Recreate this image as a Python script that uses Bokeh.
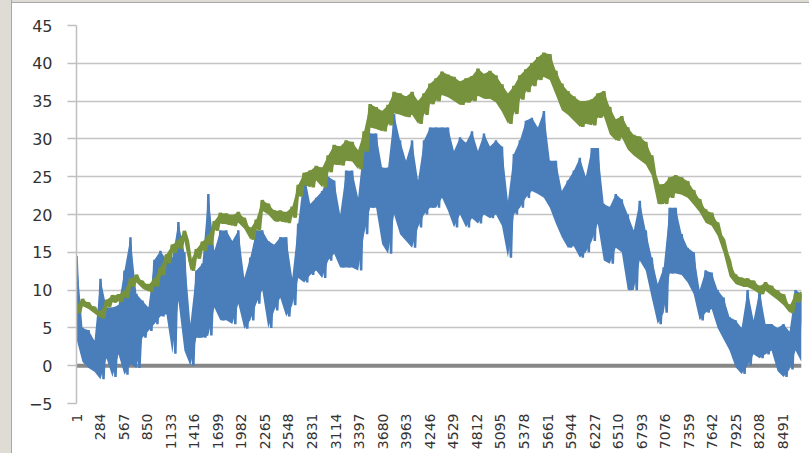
import numpy as np
from bokeh.plotting import figure
from bokeh.models import Range1d, FixedTicker, Span, Spacer
from bokeh.layouts import row, column
from bokeh.embed import file_html
from bokeh.resources import INLINE

# sample hours (every 72 h); each sample holds the high / low of the band
hours = [1 + 72 * k for k in range(122)]

green_hi = [8.0, 8.8, 8.3, 7.7, 7.1, 8.7, 9.3, 9.4, 9.9, 11.5,
            12.0, 11.1, 10.7, 11.5, 13.0, 14.7, 16.0, 16.6, 17.8, 13.8,
            15.4, 16.4, 17.2, 19.1, 20.2, 20.1, 19.9, 20.3, 19.5, 18.1,
            19.3, 21.9, 21.4, 20.5, 20.5, 20.3, 21.0, 23.9, 25.5, 25.8,
            26.4, 26.2, 27.8, 29.2, 29.0, 29.8, 29.6, 28.5, 31.0, 34.6,
            34.2, 33.7, 34.5, 36.2, 36.0, 35.6, 36.2, 35.0, 36.0, 37.3,
            38.0, 38.9, 38.5, 38.2, 37.6, 38.0, 38.3, 39.3, 38.6, 39.0,
            38.4, 37.2, 36.0, 37.0, 38.4, 39.2, 40.0, 40.8, 41.4, 41.2,
            39.0, 37.3, 36.3, 35.6, 35.0, 35.0, 35.2, 36.0, 36.3, 34.2,
            32.6, 33.0, 31.5, 30.5, 30.3, 29.6, 27.8, 24.0, 24.0, 24.9,
            25.2, 24.9, 24.4, 23.2, 22.0, 20.6, 20.2, 18.9, 16.6, 13.8,
            12.0, 11.6, 11.5, 11.2, 10.5, 11.0, 10.5, 9.9, 9.4, 7.9,
            9.5, 9.7]

green_lo = [7.0, 7.9, 7.5, 6.9, 6.3, 7.8, 8.4, 8.5, 9.0, 10.5,
            11.0, 10.2, 9.8, 10.5, 12.0, 13.6, 15.0, 15.5, 16.5, 12.6,
            14.2, 15.2, 16.0, 17.9, 18.8, 18.7, 18.5, 18.9, 18.1, 16.7,
            17.9, 20.5, 20.0, 19.1, 19.1, 18.9, 19.6, 22.4, 23.9, 23.6,
            24.5, 23.6, 25.6, 26.6, 26.5, 27.1, 27.0, 26.0, 28.3, 31.5,
            31.3, 31.0, 31.8, 33.4, 33.2, 32.9, 33.2, 32.0, 33.2, 34.6,
            35.0, 35.8, 35.5, 35.0, 34.5, 34.8, 35.0, 35.7, 35.3, 35.3,
            34.8, 33.6, 32.0, 33.3, 35.2, 36.2, 37.0, 37.8, 38.2, 37.8,
            35.8, 33.8, 33.2, 32.4, 31.6, 32.0, 31.8, 32.8, 33.0, 30.6,
            29.8, 30.2, 28.6, 27.8, 27.2, 26.6, 25.2, 21.4, 21.4, 22.2,
            22.8, 22.6, 22.2, 21.3, 20.3, 18.9, 18.5, 17.2, 14.9, 11.8,
            10.8, 10.5, 10.4, 10.0, 9.5, 9.9, 9.3, 8.7, 8.0, 7.0,
            8.4, 8.6]

blue_hi = [14.5, 5.0, 4.7, 3.3, 11.5, 7.7, 7.7, 8.0, 12.6, 17.0,
           9.5, 8.6, 7.7, 14.0, 15.2, 14.0, 14.3, 19.0, 15.0, 5.5,
           12.6, 13.5, 22.7, 15.2, 17.9, 17.9, 16.5, 17.9, 11.6, 14.3,
           17.9, 17.9, 16.5, 16.0, 17.0, 17.0, 11.6, 18.8, 25.5, 21.4,
           22.2, 23.1, 25.0, 24.5, 20.0, 25.8, 25.8, 22.2, 29.8, 30.7,
           30.7, 26.2, 26.2, 33.3, 29.8, 27.1, 29.8, 24.5, 29.8, 31.5,
           31.5, 31.5, 31.5, 28.4, 30.2, 29.5, 31.0, 28.4, 30.7, 29.0,
           29.8, 29.0, 21.8, 28.0, 29.8, 32.4, 32.8, 31.5, 33.7, 27.1,
           27.1, 23.1, 24.5, 25.8, 27.5, 25.0, 28.8, 28.8, 21.4, 21.0,
           22.7, 22.0, 20.0, 17.9, 21.8, 17.9, 14.3, 10.8, 13.0, 20.9,
           20.9, 17.4, 15.6, 15.0, 10.0, 12.6, 12.3, 10.0, 9.0, 6.4,
           6.0, 5.0, 10.0, 6.0, 10.0, 5.5, 5.5, 5.0, 5.5, 4.5,
           10.0, 9.5]

blue_lo = [3.5, 0.5, -0.3, -0.8, -1.8, 1.0, -1.5, 1.5, -1.2, 0.2,
           -0.3, 3.7, 4.6, 5.5, 6.5, 6.8, 1.6, 8.6, 2.0, 0.0,
           3.7, 3.7, 4.0, 7.7, 6.0, 6.0, 5.5, 8.2, 4.9, 6.0,
           8.2, 10.0, 5.0, 7.3, 9.0, 6.5, 8.0, 11.6, 11.0, 12.0,
           12.6, 11.6, 13.9, 14.8, 13.0, 13.0, 13.0, 12.6, 17.4, 20.9,
           20.9, 16.1, 14.8, 20.0, 17.4, 16.5, 15.6, 18.3, 20.0, 20.9,
           20.9, 22.2, 20.5, 18.3, 20.0, 18.3, 19.5, 18.8, 20.0, 19.5,
           20.0, 18.5, 14.3, 20.0, 20.9, 22.2, 23.1, 22.7, 22.2, 20.9,
           18.8, 17.0, 15.6, 15.8, 14.3, 15.0, 16.5, 18.8, 13.9, 13.5,
           15.6, 15.0, 10.0, 10.0, 13.9, 12.6, 9.0, 5.5, 7.0, 12.2,
           12.2, 12.0, 11.0, 9.5, 6.0, 7.0, 7.5, 5.0, 3.5, 2.0,
           -0.2, -1.1, 0.0, 1.5, 1.0, 1.5, 2.0, -0.7, -1.5, -0.5,
           2.0, 0.5]

x_ticks = [1, 284, 567, 850, 1133, 1416, 1699, 1982, 2265, 2548, 2831,
           3114, 3397, 3680, 3963, 4246, 4529, 4812, 5095, 5378, 5661,
           5944, 6227, 6510, 6793, 7076, 7359, 7642, 7925, 8208, 8491]
y_ticks = [-5, 0, 5, 10, 15, 20, 25, 30, 35, 40, 45]


def interleave(hrs, hi, lo, half):
    xs, ys = [], []
    for h, a, b in zip(hrs, hi, lo):
        xs += [h, h + half]
        ys += [a, b]
    return xs, ys


bx, by = interleave(hours, blue_hi, blue_lo, 36)
gx, gy = interleave(hours, green_hi, green_lo, 36)

p = figure(width=797, height=450, output_backend="svg", toolbar_location=None,
           x_range=Range1d(0.5, 8713), y_range=Range1d(-5, 45),
           min_border_left=64, min_border_right=8, min_border_top=22,
           min_border_bottom=50)
p.outline_line_color = None
p.background_fill_color = "white"
p.border_fill_color = "white"

p.xgrid.visible = False
p.ygrid.grid_line_color = "#c4c4c4"
p.ygrid.grid_line_width = 1.5

p.yaxis.ticker = FixedTicker(ticks=y_ticks)
p.yaxis.axis_line_color = "#bfbfbf"
p.yaxis.axis_line_width = 1.5
p.yaxis.major_tick_line_color = "#bfbfbf"
p.yaxis.major_tick_line_width = 1.5
p.yaxis.major_tick_out = 9
p.yaxis.major_tick_in = 0
p.yaxis.minor_tick_line_color = None
p.yaxis.major_label_text_font = "DejaVu Sans"
p.yaxis.major_label_text_font_size = "16px"
p.yaxis.major_label_text_color = "#333333"
p.yaxis.major_label_standoff = 15

p.xaxis.ticker = FixedTicker(ticks=x_ticks)
p.xaxis.major_label_orientation = np.pi / 2
p.xaxis.axis_line_color = None
p.xaxis.major_tick_line_color = None
p.xaxis.minor_tick_line_color = None
p.xaxis.major_tick_out = 0
p.xaxis.major_tick_in = 0
p.xaxis.major_label_standoff = 10
p.xaxis.major_label_text_font = "DejaVu Sans"
p.xaxis.major_label_text_font_size = "14px"
p.xaxis.major_label_text_color = "#333333"

zero_axis = Span(location=0, dimension="width", line_color="#878787",
                 line_width=4, level="underlay")
p.add_layout(zero_axis)

p.varea(x=hours, y1=blue_lo, y2=blue_hi, fill_color="#4a7ebb")
p.line(bx, by, line_color="#4a7ebb", line_width=2.5)
p.varea(x=hours, y1=green_lo, y2=green_hi, fill_color="#76923c")
p.line(gx, gy, line_color="#76923c", line_width=3.5)

left_strip = Spacer(width=12, height=453,
                    styles={"background-color": "#dedcd4",
                            "border-right": "1px solid #a8a8a8",
                            "box-sizing": "border-box"})
top_strip = Spacer(width=797, height=3,
                   styles={"background-color": "#dedcd4",
                           "border-bottom": "1px solid #a8a8a8",
                           "box-sizing": "border-box"})
layout = row(left_strip, column(top_strip, p, spacing=0), spacing=0)

open("out.html", "w").write(file_html(layout, INLINE))
